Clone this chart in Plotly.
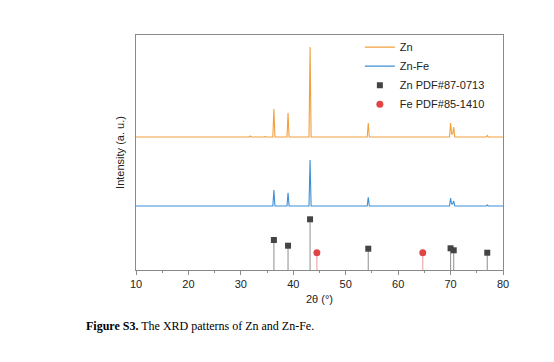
import plotly.graph_objects as go

# --- Zn pattern (explicit points; y in arbitrary units incl. offset)
zn_x = [10, 31.6, 31.8, 32.0, 34.4, 34.6, 34.8, 36.1, 36.3, 36.5, 38.8, 39.0, 39.2,
        43.0, 43.2, 43.4, 54.1, 54.3, 54.5, 69.8, 70.0, 70.2, 70.4, 70.6, 70.8,
        76.8, 77.0, 77.2, 80]
zn_y = [133, 133, 134, 133, 133, 133.6, 133, 133, 161, 133, 133, 157, 133,
        133, 223, 133, 133, 147, 133, 133, 147, 136, 136, 143, 133,
        133, 134.5, 133, 133]

# --- Zn-Fe pattern
znfe_x = [10, 31.6, 31.8, 32.0, 36.1, 36.3, 36.5, 38.8, 39.0, 39.2,
          43.0, 43.2, 43.4, 54.1, 54.3, 54.5, 69.8, 70.0, 70.2, 70.4, 70.6, 70.8,
          76.8, 77.0, 77.2, 80]
znfe_y = [64, 64, 64.6, 64, 64, 80, 64, 64, 77.3, 64,
          64, 110, 64, 64, 72.7, 64, 64, 72, 66, 66, 69, 64,
          64, 65, 64, 64]

# --- Reference cards
zn_pdf_pos = [36.3, 39.0, 43.2, 54.3, 70.0, 70.6, 77.0]
zn_pdf_int = [30.0, 24.3, 50.7, 21.3, 21.7, 19.7, 17.3]
fe_pdf_pos = [44.5, 64.7]
fe_pdf_int = [17.3, 17.3]

x_ticks = [10, 20, 30, 40, 50, 60, 70, 80]

ORANGE = "#F2A03D"
BLUE = "#3D8FD6"
GRID = "#8a8a8a"

fig = go.Figure()

fig.add_trace(go.Scatter(x=zn_x, y=zn_y, mode="lines", name="Zn",
                         line=dict(color=ORANGE, width=1.1)))
fig.add_trace(go.Scatter(x=znfe_x, y=znfe_y, mode="lines", name="Zn-Fe",
                         line=dict(color=BLUE, width=1.1)))

# stems
stem_zx, stem_zy = [], []
for p, v in zip(zn_pdf_pos, zn_pdf_int):
    stem_zx += [p, p, None]
    stem_zy += [0, v, None]
stem_fx, stem_fy = [], []
for p, v in zip(fe_pdf_pos, fe_pdf_int):
    stem_fx += [p, p, None]
    stem_fy += [0, v, None]
fig.add_trace(go.Scatter(x=stem_zx, y=stem_zy, mode="lines", showlegend=False,
                         line=dict(color="#9a9a9a", width=1.1), hoverinfo="skip"))
fig.add_trace(go.Scatter(x=stem_fx, y=stem_fy, mode="lines", showlegend=False,
                         line=dict(color="#E8A3A3", width=1.1), hoverinfo="skip"))

fig.add_trace(go.Scatter(x=zn_pdf_pos, y=zn_pdf_int, mode="markers", name="Zn PDF#87-0713",
                         marker=dict(symbol="square", size=6, color="#444444")))
fig.add_trace(go.Scatter(x=fe_pdf_pos, y=fe_pdf_int, mode="markers", name="Fe PDF#85-1410",
                         marker=dict(symbol="circle", size=7, color="#E04444")))

fig.update_layout(
    width=554, height=362,
    margin=dict(l=136, r=51, t=35, b=92),
    paper_bgcolor="white", plot_bgcolor="white",
    font=dict(family="Liberation Sans, Arial, sans-serif", size=11, color="#222222"),
    legend=dict(x=0.61, y=1.01, xanchor="left", yanchor="top",
                bgcolor="rgba(0,0,0,0)", font=dict(size=11),
                tracegroupgap=0, itemwidth=30),
    annotations=[dict(
        text="<b>Figure S3.</b> The XRD patterns of Zn and Zn-Fe.",
        xref="paper", yref="paper", x=-0.142, y=-0.2, xanchor="left", yanchor="top",
        showarrow=False, font=dict(family="Liberation Serif, Times New Roman, serif",
                                   size=12, color="#000000"))],
)

fig.update_xaxes(range=[10, 80], tickvals=x_ticks, ticks="outside", ticklen=4,
                 tickcolor=GRID, showline=True, linecolor=GRID, linewidth=1,
                 mirror=True, showgrid=False, zeroline=False,
                 minor=dict(dtick=5, ticks="outside", ticklen=2, tickcolor=GRID),
                 title=dict(text="2θ (°)", standoff=6, font=dict(size=11)))
fig.update_yaxes(range=[0, 235], showticklabels=False, ticks="", showline=True,
                 linecolor=GRID, linewidth=1, mirror=True, showgrid=False,
                 zeroline=False,
                 title=dict(text="Intensity (a. u.)", standoff=8, font=dict(size=11)))

fig.write_html("out.html", config={"displayModeBar": False},
               post_script="document.body.style.margin='0';document.body.style.overflow='hidden';")
